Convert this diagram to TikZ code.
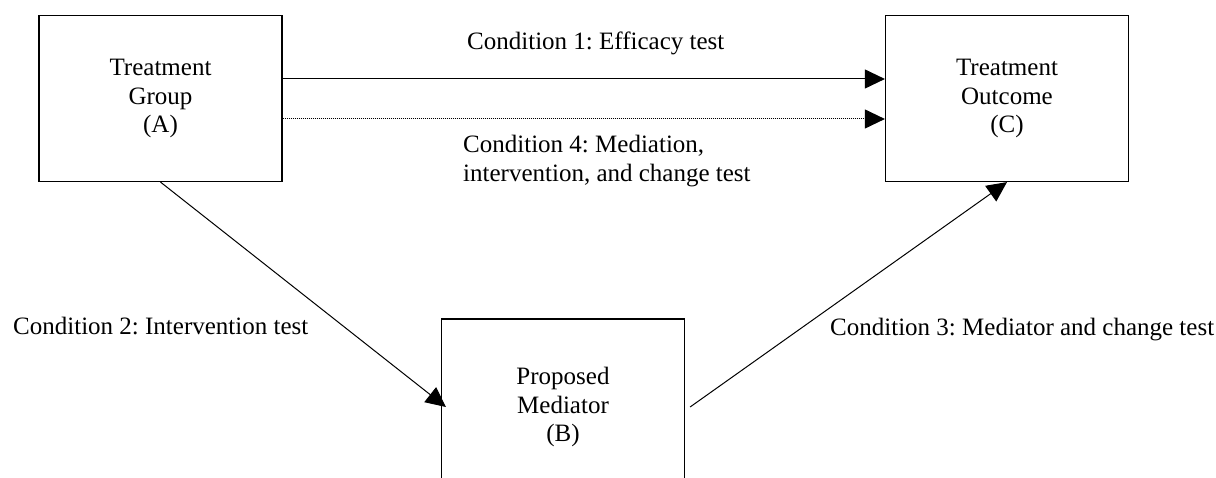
\documentclass[tikz,border=0pt]{standalone}
\usepackage{fontspec}
\setmainfont{Liberation Serif}
\frenchspacing
\usetikzlibrary{arrows.meta}
\tikzset{
  boxnode/.style={draw, line width=1.2pt, minimum width=243pt, align=center, inner sep=0pt, font=\fontsize{25}{28.5}\selectfont},
  lbl/.style={inner sep=0pt, font=\fontsize{25}{29}\selectfont},
  conn/.style={line width=1pt, -{Triangle[length=20pt,width=19pt]}},
  dotconn/.style={conn, dash pattern=on 1pt off 1pt}
}
\begin{document}
\begin{tikzpicture}[x=1pt,y=-1pt]
\useasboundingbox (0,0) rectangle (1216,478);
\clip (0,0) rectangle (1216,478);
\node[boxnode, minimum height=166pt] (A) at (160.5,98.5) {Treatment\\Group\\(A)};
\node[boxnode, minimum height=166pt] (C) at (1007,98.5) {Treatment\\Outcome\\(C)};
\node[boxnode, minimum height=176pt] (B) at (563,407) {Proposed\\Mediator\\(B)};
\draw[conn] (A.east |- 0,79) -- (C.west |- 0,79);
\draw[dotconn] (A.east |- 0,119) -- (C.west |- 0,119);
\draw[conn] (A.south) -- ([xshift=5pt]B.west);
\draw[conn] ([xshift=5pt]B.east) -- (C.south);
\node[lbl, anchor=base west] (l1) at (467,50) {Condition 1: Efficacy test};
\node[lbl, anchor=base west, align=left] (l4) at (463,182) {Condition 4: Mediation,\\intervention, and change test};
\node[lbl, anchor=base west] (l2) at (13,335) {Condition 2: Intervention test};
\node[lbl, anchor=base west] (l3) at (830,336) {Condition 3: Mediator and change test};
\end{tikzpicture}
\end{document}
